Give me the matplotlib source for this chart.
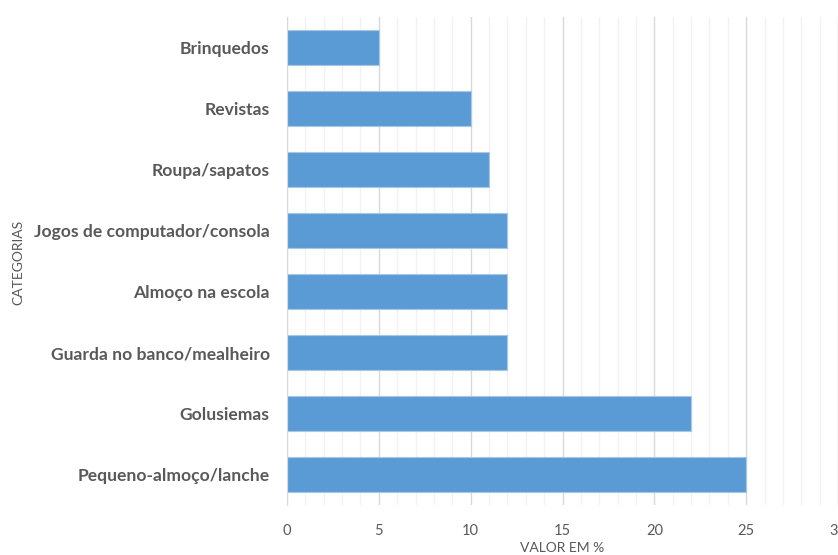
import matplotlib
matplotlib.use("Agg")
import matplotlib.pyplot as plt
import numpy as np

categories = ["Brinquedos", "Revistas", "Roupa/sapatos", "Jogos de computador/consola",
              "Almoço na escola", "Guarda no banco/mealheiro", "Golusiemas", "Pequeno-almoço/lanche"]
values = [5, 10, 11, 12, 12, 12, 22, 25]
x_ticks = [0, 5, 10, 15, 20, 25, 30]

plt.rcParams['font.family'] = ['Lato', 'DejaVu Sans']

fig = plt.figure(figsize=(8.38, 5.55), dpi=100)
W, H = 838, 555
left, right, top, bottom = 287, 838, 17, 505
ax = fig.add_axes([left / W, 1 - bottom / H, (right - left) / W, (bottom - top) / H])

y = np.arange(len(categories))
ax.barh(y, values, height=0.57, color="#5B9BD5", edgecolor="#a7c7e7", linewidth=0.8, zorder=3)
ax.set_ylim(len(categories) - 0.5, -0.5)
ax.set_xlim(0, 30)

ax.set_xticks(x_ticks)
ax.set_xticks(np.arange(0, 31, 1), minor=True)
ax.grid(axis='x', which='major', color="#d9d9d9", linewidth=1.0, zorder=0)
ax.grid(axis='x', which='minor', color="#f2f2f2", linewidth=1.0, zorder=0)
ax.tick_params(axis='x', which='both', length=0, pad=14, labelsize=10.5, labelcolor="#595959")
ax.set_yticks(y)
ax.set_yticklabels(categories, fontsize=12.6, fontweight='bold', color="#595959")
ax.tick_params(axis='y', length=0, pad=12.5)

for s in ['top', 'right', 'bottom']:
    ax.spines[s].set_visible(False)
ax.spines['left'].set_color("#d9d9d9")
ax.spines['left'].set_zorder(4)

fig.text(18 / W, 1 - 262 / H, "CATEGORIAS", rotation=90, ha='center', va='center',
         fontsize=10, color="#595959")
fig.text(562 / W, 1 - 548 / H, "VALOR EM %", ha='center', va='center',
         fontsize=10, color="#595959")

fig.savefig("out.png", dpi=100)
